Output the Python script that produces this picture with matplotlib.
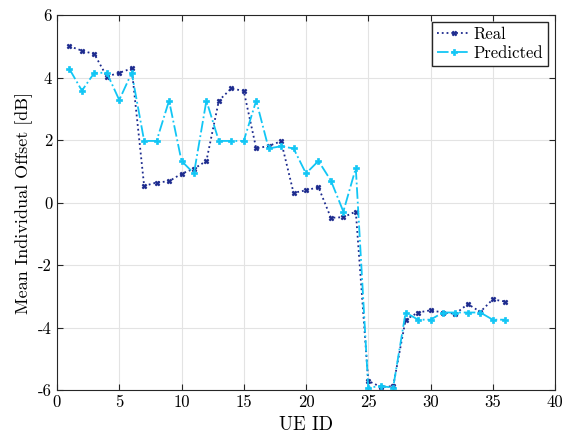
import matplotlib
matplotlib.use('Agg')
from matplotlib import pyplot as plt
import numpy as np

plt.rcParams['font.family'] = 'serif'
plt.rcParams['font.serif'] = ['cmr10']
plt.rcParams['mathtext.fontset'] = 'cm'
plt.rcParams['axes.unicode_minus'] = False

ue_id = np.arange(1, 37)
real = [5.0, 4.86, 4.75, 4.03, 4.15, 4.29, 0.53, 0.64, 0.68, 0.92,
        1.08, 1.33, 3.26, 3.65, 3.57, 1.73, 1.81, 1.96, 0.31, 0.39,
        0.49, -0.49, -0.47, -0.29, -5.71, -5.9, -5.88, -3.75, -3.52, -3.45,
        -3.52, -3.56, -3.25, -3.5, -3.1, -3.17]
predicted = [4.27, 3.58, 4.15, 4.15, 3.28, 4.15, 1.97, 1.97, 3.26, 1.33,
             0.93, 3.26, 1.97, 1.97, 1.97, 3.26, 1.73, 1.8, 1.73, 0.93,
             1.33, 0.7, -0.29, 1.1, -5.92, -5.88, -5.92, -3.52, -3.75, -3.75,
             -3.52, -3.52, -3.52, -3.52, -3.75, -3.75]

fig = plt.figure(figsize=(5.64, 4.34), dpi=100)
ax = fig.add_axes([57/564, 1 - 390/434, (555-57)/564, (390-15)/434])

ax.plot(ue_id, real, ls=':', lw=1.3, marker='X', ms=3.5, mew=0.5, color='#1c2a8e',
        label='Real')
ax.plot(ue_id, predicted, ls='-.', lw=1.3, marker='P', ms=4, mew=0.5, color='#12c6f5',
        label='Predicted')

ax.set_xlim(0, 40)
ax.set_ylim(-6, 6)
ax.set_xticks(np.arange(0, 41, 5))
ax.set_yticks(np.arange(-6, 7, 2))
ax.grid(True, color='#e3e3e3', lw=0.8)
ax.set_axisbelow(True)
ax.tick_params(direction='in', top=True, right=True, labelsize=12, length=4,
               colors='#262626', labelcolor='black')
for s in ax.spines.values():
    s.set_color('#262626')
    s.set_linewidth(0.8)

ax.set_xlabel('UE ID', fontsize=13.5)
ax.set_ylabel('Mean Individual Offset [dB]', fontsize=13)
ax.legend(loc='upper right', fontsize=12, fancybox=False, edgecolor='#262626',
          framealpha=1, handlelength=2.0, handletextpad=0.2, borderpad=0.3,
          labelspacing=0.2, borderaxespad=0.4)

plt.savefig('out.png')
